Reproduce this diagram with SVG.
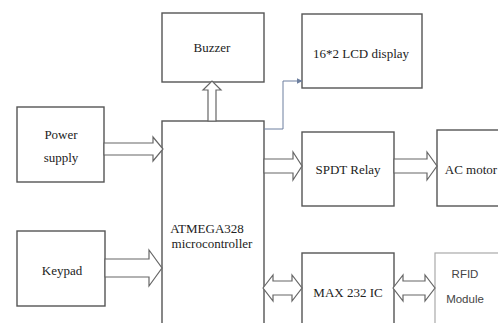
<svg xmlns="http://www.w3.org/2000/svg" width="498" height="323" viewBox="0 0 498 323">
<defs>
<style>
.box{fill:#fff;stroke:#555;stroke-width:1.4}
.lbox{fill:#fff;stroke:#aaa;stroke-width:1.2}
.arr{fill:#fff;stroke:#666;stroke-width:1.2;stroke-linejoin:miter}
.t{font-size:13px;fill:#222;text-anchor:middle}
.s{font-size:11.5px;fill:#444;text-anchor:middle}
.thin{fill:none;stroke:#6d7f9f;stroke-width:1}
</style>
<marker id="ah" viewBox="0 0 6 6" refX="5.5" refY="3" markerWidth="6" markerHeight="6" markerUnits="userSpaceOnUse" orient="auto">
<path d="M0,0 L6,3 L0,6 Z" fill="#6d7f9f"/>
</marker>
</defs>
<rect width="498" height="323" fill="#fff"/>
<g font-family="'Liberation Serif', 'DejaVu Serif', serif">
<g id="buzzer"><rect class="box" x="162" y="13" width="102" height="69"/><text class="t" x="212" y="52">Buzzer</text></g>
<g id="lcd"><rect class="box" x="302" y="14" width="120" height="74"/><text class="t" x="361" y="58">16*2  LCD display</text></g>
<g id="power"><rect class="box" x="17" y="107" width="87" height="75"/><text class="t" x="61" y="139">Power</text><text class="t" x="61" y="162">supply</text></g>
<g id="mcu"><rect class="box" x="162" y="121" width="102" height="205"/><text class="t" x="207" y="233">ATMEGA328</text><text class="t" x="212" y="248">microcontroller</text></g>
<g id="keypad"><rect class="box" x="17" y="231" width="88" height="75"/><text class="t" x="62" y="275">Keypad</text></g>
<g id="relay"><rect class="box" x="302" y="132" width="92" height="74"/><text class="t" x="348" y="174">SPDT Relay</text></g>
<g id="motor"><rect class="box" x="437" y="130" width="70" height="76"/><text class="t" x="471" y="174">AC motor</text></g>
<g id="max232"><rect class="box" x="302" y="253" width="92" height="75"/><text class="t" x="348" y="297">MAX 232 IC</text></g>
</g>
<g id="rfid"><rect class="lbox" x="435" y="253" width="72" height="75"/><text class="s" font-family="'Liberation Sans', Arial, sans-serif" x="465" y="278">RFID</text><text class="s" font-family="'Liberation Sans', Arial, sans-serif" x="465" y="303">Module</text></g>
<g id="connectors">
<path class="arr" d="M104,143 H153 V137 L163,149 L153,161 V155 H104 Z"/>
<path class="arr" d="M105,259 H149 V250 L162,268 L149,286 V277 H105 Z"/>
<path class="arr" d="M208,121 V90 H203 L212,81 L221,90 H216 V121 Z"/>
<path class="arr" d="M264,159 H293 V152 L302,166 L293,180 V173 H264 Z"/>
<path class="arr" d="M394,159 H427 V152 L437,166 L427,180 V173 H394 Z"/>
<path class="arr" d="M263,288 L273,275 V281 H292 V275 L302,288 L292,301 V295 H273 V301 Z"/>
<path class="arr" d="M393,288 L403,275 V281 H425 V275 L435,288 L425,301 V295 H403 V301 Z"/>
<polyline class="thin" points="264,129 283,129 283,81 302,81" marker-end="url(#ah)"/>
</g>
</svg>
